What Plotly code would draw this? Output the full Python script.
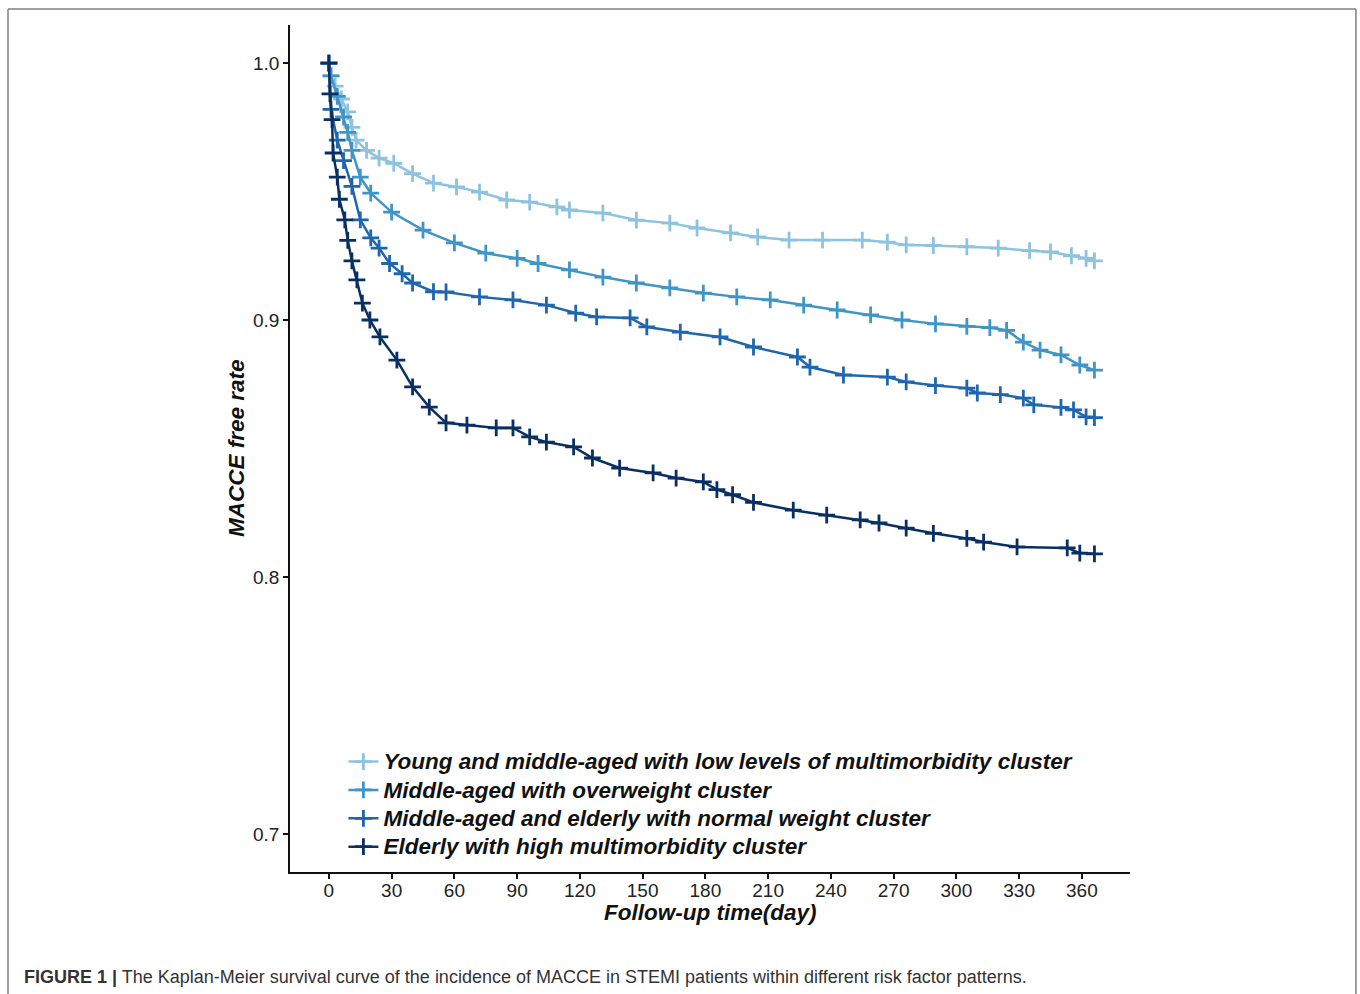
import plotly.graph_objects as go

# ---- data ----
group_names = [
    "Young and middle-aged with low levels of multimorbidity cluster",
    "Middle-aged with overweight cluster",
    "Middle-aged and elderly with normal weight cluster",
    "Elderly with high multimorbidity cluster",
]
group_colors = ["#8EC3E0", "#4095C7", "#1F66AE", "#0A2F63"]

light_days = [0, 1, 3, 6, 9, 11, 13, 18, 24, 31, 40, 50, 61, 72, 85, 96, 109, 115, 131, 147,
              163, 176, 192, 205, 220, 236, 255, 267, 276, 289, 305, 320, 335, 345, 355, 362, 366]
light_surv = [1.000, 0.995, 0.991, 0.986, 0.981, 0.975, 0.970, 0.966, 0.963, 0.961, 0.957, 0.9533,
              0.9518, 0.9498, 0.9467, 0.9459, 0.944, 0.9428, 0.9416, 0.9389, 0.9377, 0.9358, 0.9339,
              0.9323, 0.9311, 0.9311, 0.9311, 0.9303, 0.9292, 0.929, 0.9285, 0.928, 0.927, 0.9265,
              0.925, 0.924, 0.923]

medium_days = [0, 1, 4, 7, 9, 11, 15, 20, 30, 45, 60, 75, 90, 100, 115, 131, 147, 163, 179, 195,
               211, 227, 243, 259, 274, 290, 305, 316, 324, 332, 340, 350, 359, 366]
medium_surv = [1.000, 0.995, 0.987, 0.979, 0.973, 0.966, 0.9556, 0.9494, 0.942, 0.935, 0.930, 0.926,
               0.924, 0.922, 0.9195, 0.9167, 0.9144, 0.9125, 0.9105, 0.909, 0.9078, 0.9058, 0.9039,
               0.902, 0.900, 0.8985, 0.8975, 0.897, 0.896, 0.8914, 0.8883, 0.8864, 0.8825, 0.8805]

mdark_days = [0, 1, 4, 7, 11, 15, 20, 24, 29, 35, 40, 50, 56, 72, 88, 104, 118, 128, 144, 152, 168,
              187, 203, 224, 230, 246, 267, 276, 290, 305, 310, 321, 332, 337, 350, 356, 362, 366]
mdark_surv = [1.000, 0.982, 0.970, 0.962, 0.952, 0.939, 0.932, 0.928, 0.922, 0.918, 0.9144, 0.911,
              0.9109, 0.909, 0.9078, 0.9058, 0.9027, 0.9012, 0.9008, 0.8973, 0.8953, 0.8934, 0.8895,
              0.8856, 0.8817, 0.8786, 0.8778, 0.8759, 0.8745, 0.8735, 0.8716, 0.871, 0.8696, 0.867,
              0.866, 0.865, 0.8623, 0.862]

dark_days = [0, 0.5, 1.5, 2, 4, 5, 7.6, 9, 11, 13.4, 16, 19.6, 24.4, 32.5, 40, 48, 56, 66, 80, 88,
             96, 104, 117, 126, 139, 155, 166, 179, 185.5, 193, 203, 222, 238, 254, 263, 276, 289,
             305, 313, 329, 353, 359, 366]
dark_surv = [1.000, 0.988, 0.978, 0.965, 0.9556, 0.947, 0.939, 0.931, 0.923, 0.9156, 0.9066, 0.900,
             0.8934, 0.8844, 0.874, 0.8661, 0.860, 0.8591, 0.858, 0.858, 0.8545, 0.8525, 0.8506,
             0.8463, 0.8424, 0.8405, 0.8385, 0.837, 0.834, 0.832, 0.829, 0.826, 0.8241, 0.8222,
             0.821, 0.819, 0.817, 0.815, 0.8136, 0.8117, 0.8113, 0.8093, 0.809]

x_ticks = [0, 30, 60, 90, 120, 150, 180, 210, 240, 270, 300, 330, 360]
y_ticks = [0.7, 0.8, 0.9, 1.0]

series = [(light_days, light_surv), (medium_days, medium_surv),
          (mdark_days, mdark_surv), (dark_days, dark_surv)]

fig = go.Figure()
for (d, s), name, col in zip(series, group_names, group_colors):
    fig.add_trace(go.Scatter(
        x=d, y=s, name="<span style='font-size:22.5px'>" + name + "</span>",
        mode="lines+markers",
        line=dict(color=col, width=2.5),
        marker=dict(symbol="cross-thin", size=12, line=dict(color=col, width=2.8), color=col),
    ))

FONT = "Liberation Sans, Arial, sans-serif"

fig.update_layout(
    width=1360, height=994,
    margin=dict(l=290, r=230, t=25, b=122),
    paper_bgcolor="white", plot_bgcolor="white",
    font=dict(family=FONT, color="#111"),
    showlegend=True,
    legend=dict(
        x=0.0636, y=0.153, xanchor="left", yanchor="top",
        bgcolor="rgba(0,0,0,0)", itemwidth=30,
        font=dict(size=19.5, color="#111", weight="bold", style="italic", family=FONT),
        tracegroupgap=0,
    ),
    xaxis=dict(
        range=[-18.6, 383], tickvals=x_ticks, ticks="outside", ticklen=5, tickwidth=1.5,
        tickcolor="#111", showline=True, linecolor="#111", linewidth=1.8, showgrid=False,
        zeroline=False, tickfont=dict(size=19, color="#222"), ticklabelstandoff=-5,
    ),
    yaxis=dict(
        range=[0.6852, 1.0148], tickvals=y_ticks, tickformat=".1f", ticks="outside", ticklen=5,
        tickwidth=1.5, tickcolor="#111", showline=True, linecolor="#111", linewidth=1.8,
        showgrid=False, zeroline=False, tickfont=dict(size=19, color="#222"),
    ),
    annotations=[
        dict(text="MACCE free rate", x=-0.063, y=0.5006, xref="paper", yref="paper",
             showarrow=False, textangle=-90, xanchor="center", yanchor="middle",
             font=dict(size=22.5, color="#111", weight="bold", style="italic", family=FONT)),
        dict(text="Follow-up time(day)", x=0.501, y=-0.0484, xref="paper", yref="paper",
             showarrow=False, xanchor="center", yanchor="middle",
             font=dict(size=22.5, color="#111", weight="bold", style="italic", family=FONT)),
        dict(text="<b>FIGURE 1 |</b> The Kaplan-Meier survival curve of the incidence of MACCE in STEMI patients within different risk factor patterns.",
             x=-0.319, y=-0.124, xref="paper", yref="paper", showarrow=False,
             xanchor="left", yanchor="middle",
             font=dict(size=18, color="#333", family=FONT)),
    ],
    shapes=[
        dict(type="line", xref="paper", yref="paper", x0=-0.3357, x1=1.2690, y0=1.0189, y1=1.0189,
             line=dict(color="#808080", width=1.5)),
        dict(type="line", xref="paper", yref="paper", x0=-0.3357, x1=-0.3357, y0=1.0189, y1=-0.16,
             line=dict(color="#808080", width=1.5)),
        dict(type="line", xref="paper", yref="paper", x0=1.2690, x1=1.2690, y0=1.0189, y1=-0.16,
             line=dict(color="#808080", width=1.5)),
    ],
)

fig.write_html("out.html", post_script="document.body.style.margin='0';",
               config={"displayModeBar": False})
